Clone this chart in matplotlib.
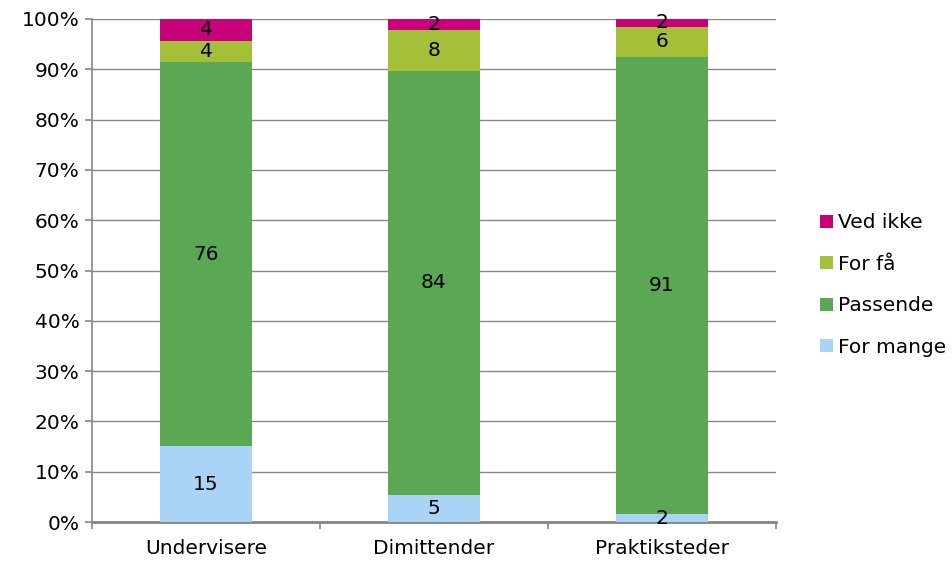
import matplotlib.pyplot as plt
import numpy as np

categories = ['Undervisere', 'Dimittender', 'Praktiksteder']
series = ['For mange', 'Passende', 'For få', 'Ved ikke']
for_mange = [15.1, 5.4, 1.5]
passende = [76.3, 84.3, 91.0]
for_faa = [4.3, 8.1, 6.0]
ved_ikke = [4.3, 2.2, 1.5]
colors = ['#A9D4F5', '#5BA753', '#A3C038', '#C8007A']

plt.rcParams['font.family'] = ['DejaVu Sans']
grey = '#868686'
fs = 14.5

fig = plt.figure(figsize=(9.52, 5.65), dpi=100)
ax = fig.add_axes([92 / 952, 1 - 522 / 565, (776 - 92) / 952, (522 - 19) / 565])

x = np.arange(len(categories))
bottom = np.zeros(len(categories))
handles = []
for name, vals, col in zip(series, [for_mange, passende, for_faa, ved_ikke], colors):
    vals = np.array(vals)
    bars = ax.bar(x, vals, 0.4, bottom=bottom, color=col, label=name, zorder=3)
    handles.append(bars)
    for xi, b, v in zip(x, bottom, vals):
        ax.text(xi, b + v / 2, f'{v:.0f}', ha='center', va='center',
                fontsize=fs, color='black', zorder=4)
    bottom += vals

ax.set_xlim(-0.5, 2.5)
ax.set_ylim(0, 100)
ax.set_yticks(np.arange(0, 101, 10))
ax.set_yticklabels([f'{v}%' for v in range(0, 101, 10)], fontsize=fs)
ax.set_xticks(x)
ax.set_xticklabels(categories, fontsize=fs)
ax.set_xticks([-0.5, 0.5, 1.5, 2.5], minor=True)
ax.tick_params(axis='x', which='major', length=0, pad=12)
ax.tick_params(axis='x', which='minor', length=5, color=grey, width=1.2)
ax.tick_params(axis='y', length=5, color=grey, width=1.2, pad=4)
ax.yaxis.grid(True, color=grey, linewidth=1.0, zorder=0)
for s in ['top', 'right']:
    ax.spines[s].set_visible(False)
for s in ['left', 'bottom']:
    ax.spines[s].set_color(grey)
    ax.spines[s].set_linewidth(1.2)
ax.spines['bottom'].set_linewidth(2)

ax.legend(handles[::-1], series[::-1], loc='center left', bbox_to_anchor=(1.065, 0.471),
          frameon=False, fontsize=fs, handlelength=0.6, handleheight=0.6,
          handletextpad=0.25, labelspacing=1.12, borderaxespad=0, borderpad=0)

fig.savefig('out.png', dpi=100)
